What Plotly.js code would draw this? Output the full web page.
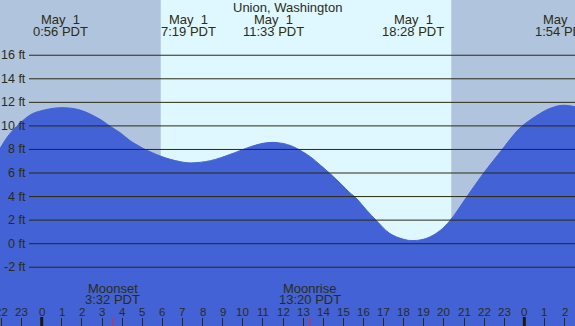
<!DOCTYPE html>
<html>
<head>
<meta charset="utf-8">
<script src="https://cdn.plot.ly/plotly-3.0.1.min.js"></script>
<style>html,body{margin:0;padding:0;background:#fff;}#chart{width:575px;height:326px;}</style>
</head>
<body>
<div id="chart"></div>
<script>
// ---- data ----
const tideHours = [-2.1, -1.6, -0.6, -0.1, 0.93, 1.9, 2.9, 3.4, 3.9, 4.4, 4.9, 5.15, 5.9, 6.4, 6.9, 7.4, 8.4, 9.4, 10.4, 11.0, 11.55, 12.1, 12.6, 13.35, 13.85, 14.35, 14.85, 15.35, 15.6, 16.15, 16.65, 17.3, 18.0, 18.47, 19.15, 19.8, 20.3, 21.15, 21.95, 22.9, 23.45, 23.85, 24.8, 25.3, 25.9, 26.6];
const tideFeet  = [8.0, 9.3, 10.9, 11.25, 11.55, 11.35, 10.56, 9.97, 9.42, 8.74, 8.23, 8.0, 7.44, 7.16, 6.96, 6.86, 7.05, 7.6, 8.24, 8.52, 8.6, 8.47, 8.16, 7.39, 6.68, 5.94, 5.13, 4.28, 3.94, 2.86, 1.95, 0.88, 0.37, 0.26, 0.46, 1.1, 1.95, 4.0, 5.94, 8.0, 9.2, 9.93, 11.07, 11.5, 11.75, 11.6];

const eventHours = [0.93, 7.32, 11.55, 18.47, 25.9];
const eventDates = ['May\u00a0 1', 'May\u00a0 1', 'May\u00a0 1', 'May\u00a0 1', 'May\u00a0 2'];
const eventTimes = ['0:56 PDT', '7:19 PDT', '11:33 PDT', '18:28 PDT', '1:54 PDT'];

const sunrise = 5.92, sunset = 20.38;

const moonHours = [3.53, 13.33];
const moonNames = ['Moonset', 'Moonrise'];
const moonTimes = ['3:32 PDT', '13:20 PDT'];

const feetTicks = [-2, 0, 2, 4, 6, 8, 10, 12, 14, 16];
const feetLabels = ['-2 ft', '0 ft', '2 ft', '4 ft', '6 ft', '8 ft', '10 ft', '12 ft', '14 ft', '16 ft'];

const hourTicks = [-2, -1, 0, 1, 2, 3, 4, 5, 6, 7, 8, 9, 10, 11, 12, 13, 14, 15, 16, 17, 18, 19, 20, 21, 22, 23, 24, 25, 26];
const hourLabels = ['22', '23', '0', '1', '2', '3', '4', '5', '6', '7', '8', '9', '10', '11', '12', '13', '14', '15', '16', '17', '18', '19', '20', '21', '22', '23', '0', '1', '2'];
const dayBreaks = [0, 24];

const title = 'Union, Washington';

// ---- layout ----
const W = 575, H = 326;
const X0 = -2.074, X1 = 26.52;
const Y0 = -6.99, Y1 = 20.69;
const py = p => 1 - p / H;       // pixel row -> paper y
const TXT = '#2c2c12';
const FONT = 'Liberation Sans, Arial, sans-serif';
const night = '#b0c4de', day = '#dff8ff', water = '#4262d5';

const shapes = [
  {type: 'rect', layer: 'below', xref: 'x', yref: 'paper', x0: X0 - 1, x1: sunrise, y0: 0, y1: 1, fillcolor: night, line: {width: 0}},
  {type: 'rect', layer: 'below', xref: 'x', yref: 'paper', x0: sunrise, x1: sunset, y0: 0, y1: 1, fillcolor: day, line: {width: 0}},
  {type: 'rect', layer: 'below', xref: 'x', yref: 'paper', x0: sunset, x1: X1 + 1, y0: 0, y1: 1, fillcolor: night, line: {width: 0}}
];
feetTicks.forEach(f => shapes.push({type: 'line', layer: 'above', xref: 'paper', yref: 'y', x0: 29 / W, x1: 1, y0: f, y1: f, line: {color: '#2a2a10', width: 1}}));
dayBreaks.forEach(h => shapes.push({type: 'line', layer: 'above', xref: 'x', yref: 'paper', x0: h, x1: h, y0: 0, y1: 9 / H, line: {color: '#1a1a08', width: 3}}));
moonHours.forEach(h => shapes.push({type: 'line', layer: 'above', xref: 'x', yref: 'paper', x0: h, x1: h, y0: 0, y1: 8 / H, line: {color: '#ff2020', width: 1}}));

const annotations = [];
const ann = (o) => annotations.push(Object.assign({showarrow: false, font: {family: FONT, size: 13, color: TXT}}, o));
ann({text: title, xref: 'paper', yref: 'paper', x: 287 / W, y: py(7.5), xanchor: 'center', yanchor: 'middle'});
eventHours.forEach((h, i) => {
  ann({text: eventDates[i], xref: 'x', yref: 'paper', x: h, y: py(19.5), xanchor: 'center', yanchor: 'middle'});
  ann({text: eventTimes[i], xref: 'x', yref: 'paper', x: h, y: py(32), xanchor: 'center', yanchor: 'middle'});
});
moonHours.forEach((h, i) => {
  ann({text: moonNames[i], xref: 'x', yref: 'paper', x: h, y: py(288), xanchor: 'center', yanchor: 'middle'});
  ann({text: moonTimes[i], xref: 'x', yref: 'paper', x: h, y: py(299.5), xanchor: 'center', yanchor: 'middle'});
});
feetTicks.forEach((f, i) => ann({text: feetLabels[i], xref: 'paper', yref: 'y', x: 28 / W, y: f, xanchor: 'right', yanchor: 'middle', font: {family: FONT, size: 12.5, color: TXT}}));
hourTicks.forEach((h, i) => ann({text: hourLabels[i], xref: 'x', yref: 'paper', x: h, y: py(311.5), xanchor: 'center', yanchor: 'middle', font: {family: FONT, size: 11.5, color: TXT}}));

const traces = [
  {x: [X0 - 1, X1 + 1], y: [Y0 - 2, Y0 - 2], mode: 'lines', line: {width: 0, color: water}, hoverinfo: 'skip', showlegend: false},
  {x: tideHours, y: tideFeet, mode: 'lines', line: {shape: 'spline', smoothing: 1, width: 1, color: water}, fill: 'tonexty', fillcolor: water, showlegend: false}
];

const layout = {
  width: W, height: H,
  margin: {l: 0, r: 0, t: 0, b: 0, pad: 0},
  paper_bgcolor: night, plot_bgcolor: 'rgba(0,0,0,0)',
  showlegend: false,
  xaxis: {range: [X0, X1], tickvals: hourTicks, ticks: 'inside', ticklen: 8, tickwidth: 1, tickcolor: '#2a2a10', showticklabels: false, showgrid: false, zeroline: false, showline: false, fixedrange: true},
  yaxis: {range: [Y0, Y1], showticklabels: false, showgrid: false, zeroline: false, showline: false, ticks: '', fixedrange: true},
  shapes: shapes,
  annotations: annotations
};

Plotly.newPlot('chart', traces, layout, {staticPlot: true, displayModeBar: false});
</script>
</body>
</html>
